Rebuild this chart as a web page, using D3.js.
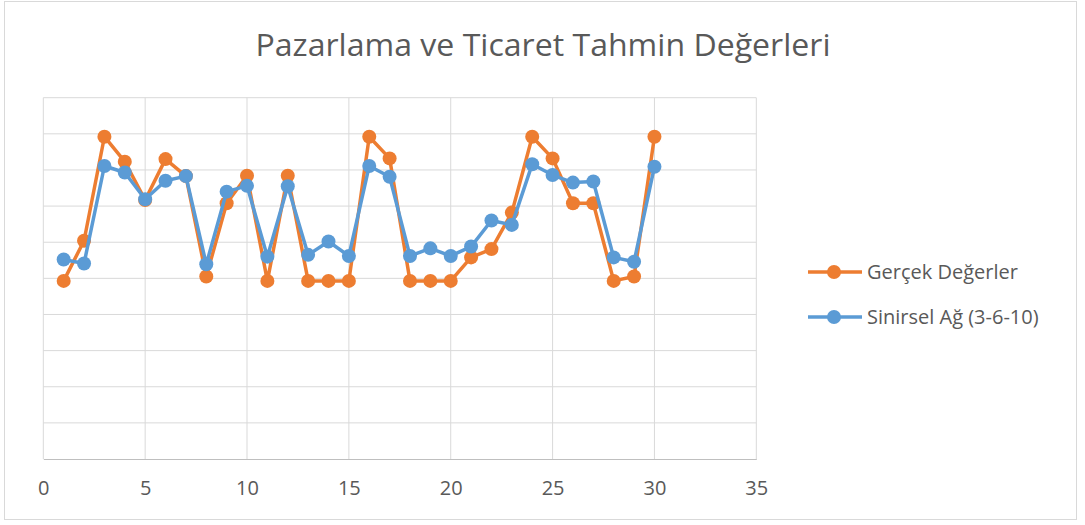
<!DOCTYPE html>
<html>
<head>
<meta charset="utf-8">
<script src="https://cdn.jsdelivr.net/npm/d3@7"></script>
<style>
body { margin: 0; background: #fff; }
text { font-family: "Open Sans", "Noto Sans", sans-serif; fill: #595959; }
</style>
</head>
<body>
<div id="chart"></div>
<script>
var w = 1085;
var h = 525;

// data
var periods = d3.range(1, 31);
var actual = [4.93, 6.04, 8.92, 8.23, 7.17, 8.30, 7.83, 5.05, 7.08, 7.84,
              4.93, 7.84, 4.93, 4.93, 4.93, 8.92, 8.32, 4.93, 4.93, 4.93,
              5.58, 5.81, 6.82, 8.92, 8.32, 7.08, 7.08, 4.93, 5.05, 8.92];
var network = [5.52, 5.41, 8.11, 7.93, 7.19, 7.70, 7.83, 5.39, 7.40, 7.56,
               5.60, 7.55, 5.65, 6.02, 5.62, 8.11, 7.81, 5.62, 5.83, 5.62,
               5.88, 6.60, 6.48, 8.16, 7.86, 7.65, 7.68, 5.58, 5.46, 8.09];
var xTicks = [0, 5, 10, 15, 20, 25, 30, 35];
var seriesNames = ["Gerçek Değerler", "Sinirsel Ağ (3-6-10)"];
var colors = ["#ED7D31", "#5B9BD5"];

var svg = d3.select("#chart")
    .append("svg")
    .attr("width", w)
    .attr("height", h);

// outer chart border
svg.append("rect")
    .attr("x", 4.5).attr("y", 1.5)
    .attr("width", 1072).attr("height", 518)
    .attr("fill", "#fff")
    .attr("stroke", "#d9d9d9");

var plotLeft = 43.3, plotRight = 756.3, plotTop = 97.7, plotBottom = 459;

var xScale = d3.scaleLinear().domain([0, 35]).range([plotLeft, plotRight]);
var yScale = d3.scaleLinear().domain([0, 10]).range([plotBottom, plotTop]);

// gridlines
svg.append("g")
    .selectAll("line")
    .data(d3.range(1, 11))
    .enter()
    .append("line")
    .attr("x1", plotLeft).attr("x2", plotRight)
    .attr("y1", function (d) { return yScale(d); })
    .attr("y2", function (d) { return yScale(d); })
    .attr("stroke", "#d9d9d9").attr("stroke-width", 1);

svg.append("g")
    .selectAll("line")
    .data(xTicks)
    .enter()
    .append("line")
    .attr("x1", function (d) { return xScale(d); })
    .attr("x2", function (d) { return xScale(d); })
    .attr("y1", plotTop).attr("y2", plotBottom)
    .attr("stroke", "#d9d9d9").attr("stroke-width", 1);

// x axis
var xAxis = d3.axisBottom(xScale)
    .tickValues(xTicks)
    .tickSize(0)
    .tickPadding(22);

var gx = svg.append("g")
    .attr("transform", "translate(0," + plotBottom + ")")
    .call(xAxis);
gx.select(".domain").attr("stroke", "#bfbfbf").attr("stroke-width", 1);
gx.selectAll("text")
    .attr("font-size", "20px")
    .style("fill", "#595959")
    .style("font-family", "'Open Sans', sans-serif");

// title
svg.append("text")
    .attr("x", 543)
    .attr("y", 56)
    .attr("text-anchor", "middle")
    .attr("font-size", "31px")
    .attr("textLength", 575)
    .attr("lengthAdjust", "spacingAndGlyphs")
    .text("Pazarlama ve Ticaret Tahmin Değerleri");

// series
var line = d3.line()
    .x(function (d) { return xScale(d[0]); })
    .y(function (d) { return yScale(d[1]); });

[actual, network].forEach(function (vals, k) {
    var pts = periods.map(function (p, i) { return [p, vals[i]]; });
    var g = svg.append("g");
    g.append("path")
        .datum(pts)
        .attr("d", line)
        .attr("fill", "none")
        .attr("stroke", colors[k])
        .attr("stroke-width", 3.5)
        .attr("stroke-linejoin", "round");
    g.selectAll("circle")
        .data(pts)
        .enter()
        .append("circle")
        .attr("cx", function (d) { return xScale(d[0]); })
        .attr("cy", function (d) { return yScale(d[1]); })
        .attr("r", 7)
        .attr("fill", colors[k]);
});

// legend
var legend = svg.append("g")
    .selectAll("g")
    .data(seriesNames)
    .enter()
    .append("g")
    .attr("transform", function (d, i) { return "translate(808," + (272 + i * 45) + ")"; });

legend.append("line")
    .attr("x1", 0).attr("x2", 54)
    .attr("stroke", function (d, i) { return colors[i]; })
    .attr("stroke-width", 3.5);
legend.append("circle")
    .attr("cx", 26).attr("r", 7)
    .attr("fill", function (d, i) { return colors[i]; });
legend.append("text")
    .attr("x", 59)
    .attr("y", 7)
    .attr("font-size", "20px")
    .text(function (d) { return d; });
</script>
</body>
</html>
